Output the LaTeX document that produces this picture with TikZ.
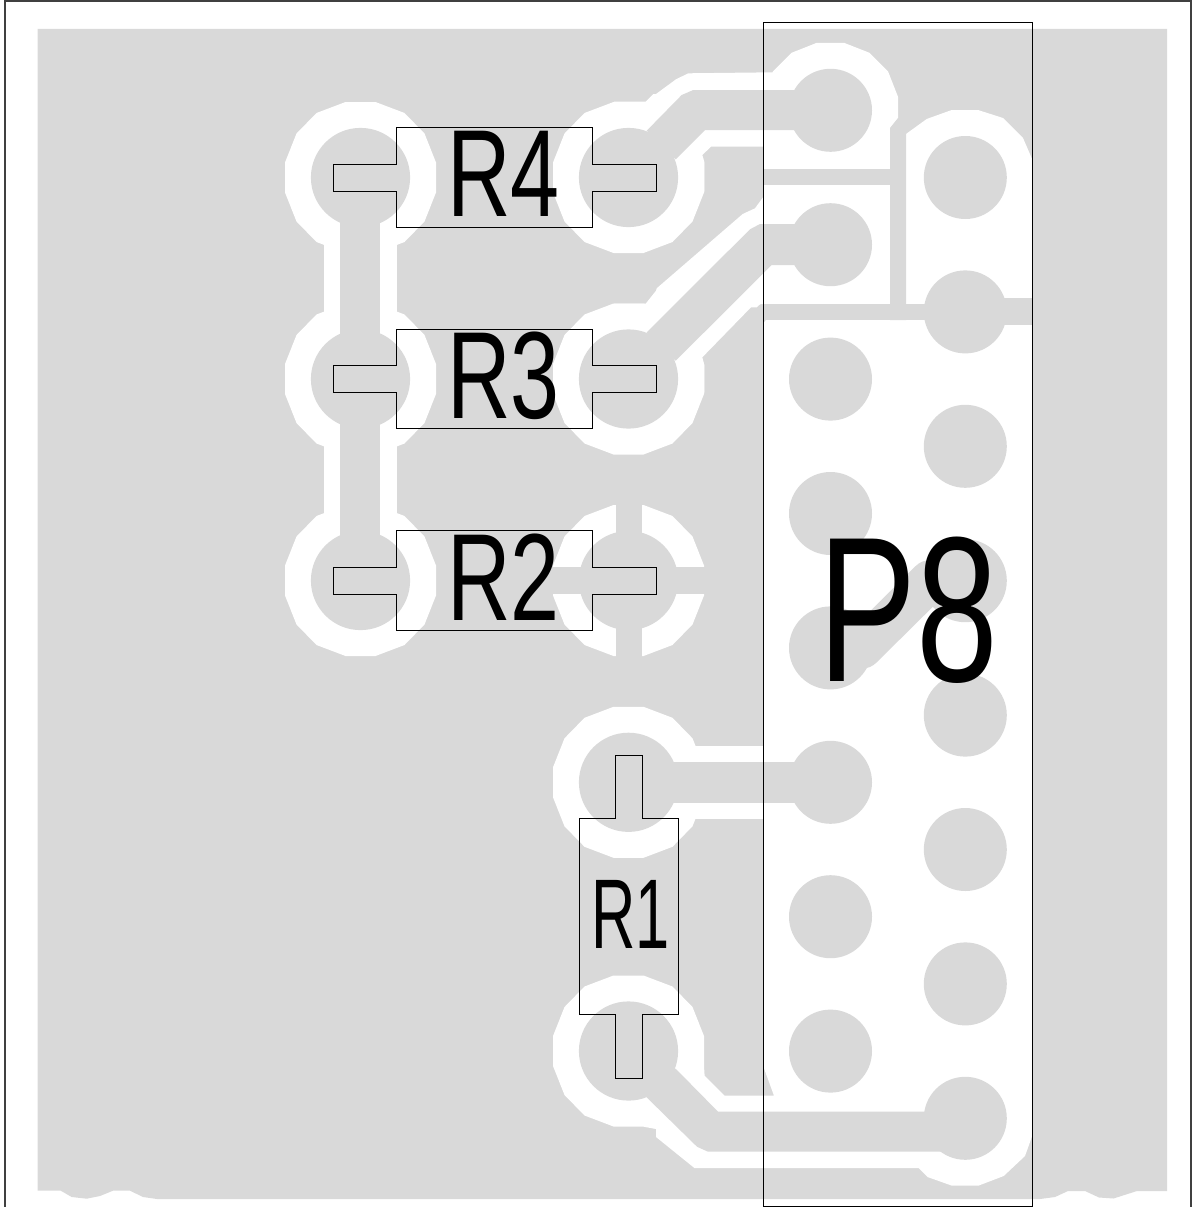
\documentclass[tikz,border=0pt]{standalone}
\usepackage{fontspec}
\setmainfont{Liberation Sans}
\newfontfamily\condfont[FakeStretch=0.71]{Liberation Sans}
\newfontfamily\narrowfont[FakeStretch=0.62]{Liberation Sans}
\definecolor{copper}{HTML}{D9D9D9}
\tikzset{
  pour/.style={fill=copper},
  clearing/.style={fill=white},
  outline/.style={draw=black,line width=1pt,line join=miter},
  edgeline/.style={draw=black!75,line width=2pt},
  refdes/.style={inner sep=0pt,outer sep=0pt,text=black,anchor=base}
}
\newcommand{\clrbig}[2]{\fill[clearing,shift={(#1,#2)}] (15,75.5)--(44,64.5)--(64,44)--(75.5,15)--(75.5,-15)--(64,-44)--(44,-64.5)--(15,-75.5)--(-15,-75.5)--(-44,-64.5)--(-64,-44)--(-75.5,-15)--(-75.5,15)--(-64,44)--(-44,64.5)--(-15,75.5)--cycle;}
\newcommand{\clrsmall}[2]{\fill[clearing,shift={(#1,#2)}] (13.5,67.5)--(39,57.5)--(57.5,39)--(67.5,13.5)--(67.5,-13.5)--(57.5,-39)--(39,-57.5)--(13.5,-67.5)--(-13.5,-67.5)--(-39,-57.5)--(-57.5,-39)--(-67.5,-13.5)--(-67.5,13.5)--(-57.5,39)--(-39,57.5)--(-13.5,67.5)--cycle;}
\newcommand{\padbig}[2]{\fill[pour] (#1,#2) circle[radius=49.6];}
\newcommand{\padsmall}[2]{\fill[pour] (#1,#2) circle[radius=41.5];}
\newcommand{\reshoriz}[1]{\draw[outline,shift={(0,#1)}] (396.5,-50)--(592.5,-50)--(592.5,-13.5)--(656,-13.5)--(656,13.5)--(592.5,13.5)--(592.5,49.5)--(396.5,49.5)--(396.5,13.5)--(333,13.5)--(333,-13.5)--(396.5,-13.5)--cycle;}
\begin{document}
\begin{tikzpicture}[x=1pt,y=-1pt]
\useasboundingbox (0,0) rectangle (1194,1207);
% copper pour
\fill[pour] (37.5,29)--(1167,29)--(1167,1191)--(1137,1191)--(1113.5,1198.5)--(1099,1197.5)--(1085,1191)--(1068,1191)--(1055,1197)--(1040,1199)--(157,1199)--(143,1197)--(130,1190.7)--(113,1190.7)--(100,1196)--(86.7,1198.7)--(71.7,1197)--(60.7,1190.7)--(37.5,1190.7)--cycle;
% clearances
\clrbig{360.5}{177.5}\clrbig{360.5}{379}\clrbig{360.5}{580.5}
\clrbig{628.5}{177.5}\clrbig{628.5}{379}\clrbig{628.5}{580.5}
\clrbig{628.5}{782.3}\clrbig{628.5}{1051}
\clrsmall{830.5}{110.3}
\fill[clearing] (324,177.5) rectangle (396.7,580.5);
\fill[clearing] (614,101.7)--(645.7,101.7)--(653.3,94)--(656,94)--(676,79.3)--(688.3,73.3)--(773.3,72.3)--(793.3,53)--(816.7,43)--(830,60)--(830,140)--(764,146.7)--(711,146.7)--(702.3,155)--(704.3,161.7)--(704.3,191.7)--(628,178)--cycle;
\fill[clearing] (614,303.7)--(645.7,303.7)--(656,290.7)--(656.7,288.3)--(742.7,214)--(755,208.3)--(763.5,196.7)--(790,196.7)--(790,304)--(763.5,304)--(760,304.3)--(756.7,307.3)--(751,307.3)--(702.3,357.3)--(704.3,365)--(704.3,392.7)--(628,379)--cycle;
\fill[clearing] (763.5,100) rectangle (890,304);
\fill[clearing] (695,746) rectangle (763.5,818.7);
\fill[clearing] (906,134)--(926.7,119)--(951.7,110)--(978,110)--(1003,118)--(1023,138)--(1032.5,160)--(1032.5,1135)--(1025,1156)--(1003.7,1176)--(978.3,1185.7)--(952,1185.7)--(927.5,1177)--(918.6,1168)--(694.4,1168)--(656,1137)--(656,1129)--(643.6,1126.7)--(628.5,1051)--(704,1066)--(704.6,1075.7)--(724.5,1095.7)--(774,1095.7)--(763.5,1067)--(763.5,323)--(766,320)--(906,320)--cycle;
% thermal spokes
\fill[pour] (540,567) rectangle (720,594);
\fill[pour] (615.5,490) rectangle (642,670);
% tracks
\fill[pour] (340,177.5) rectangle (380,580.5);
\fill[pour] (646.7,130.7)--(681.7,95)--(693.3,90)--(800,90)--(800,130)--(705,130)--(675.7,159.3)--cycle;
\fill[pour] (646.7,332.3)--(750,229.3)--(760,224)--(800,224)--(800,265)--(771.7,265)--(675.7,360.7)--cycle;
\fill[pour] (763.5,169) rectangle (890,185);
\fill[pour] (763.5,304) rectangle (1000,320);
\fill[pour] (890,128)--(898,118)--(906,118)--(906,320)--(890,320)--cycle;
\fill[pour] (965,298) rectangle (1032.5,325);
\fill[pour] (628.5,762) rectangle (830,802.7);
\draw[draw=copper,line width=41pt,line join=round] (830.5,648)--(862,648)--(930,580.7)--(965,580.7);
\fill[pour] (676,1069)--(718,1111.7)--(965,1111.7)--(965,1151.7)--(708,1151.7)--(697,1146.7)--(647,1097.7)--(628.5,1051)--cycle;
% pads
\padbig{360.5}{177.5}\padbig{360.5}{379}\padbig{360.5}{580.5}
\padbig{628.5}{177.5}\padbig{628.5}{379}\padbig{628.5}{580.5}
\padbig{628.5}{782.3}\padbig{628.5}{1051}
\foreach \yy in {110.3,244.7,379.1,513.5,647.9,782.3,916.7,1051.1} {\padsmall{830.5}{\yy}}
\foreach \yy in {177.5,311.9,446.3,580.7,715.1,849.5,983.9,1118.3} {\padsmall{965.3}{\yy}}
% board edge
\draw[edgeline] (4.7,1207)--(4.7,1)--(1191.3,1)--(1191.3,1207);
% component outlines
\reshoriz{177.5}
\reshoriz{379}
\reshoriz{580.5}
\draw[outline] (579.5,818.5)--(615.5,818.5)--(615.5,755)--(642.3,755)--(642.3,818.5)--(678.7,818.5)--(678.7,1014.7)--(642.3,1014.7)--(642.3,1078)--(615.5,1078)--(615.5,1014.7)--(579.5,1014.7)--cycle;
\draw[outline] (763.5,22.5) rectangle (1032.5,1206);
% labels
\node[refdes] (r4) at (503.5,216.7) {\condfont\fontsize{124}{124}\selectfont R4};
\node[refdes] (r3) at (503.5,418.5) {\condfont\fontsize{124}{124}\selectfont R3};
\node[refdes] (r2) at (503.5,620) {\condfont\fontsize{124}{124}\selectfont R2};
\node[refdes] (r1) at (630.5,948) {\narrowfont\fontsize{99}{99}\selectfont R1};
\node[refdes] (p8) at (908.5,681.3) {\condfont\fontsize{207}{207}\selectfont P8};
\end{tikzpicture}
\end{document}
